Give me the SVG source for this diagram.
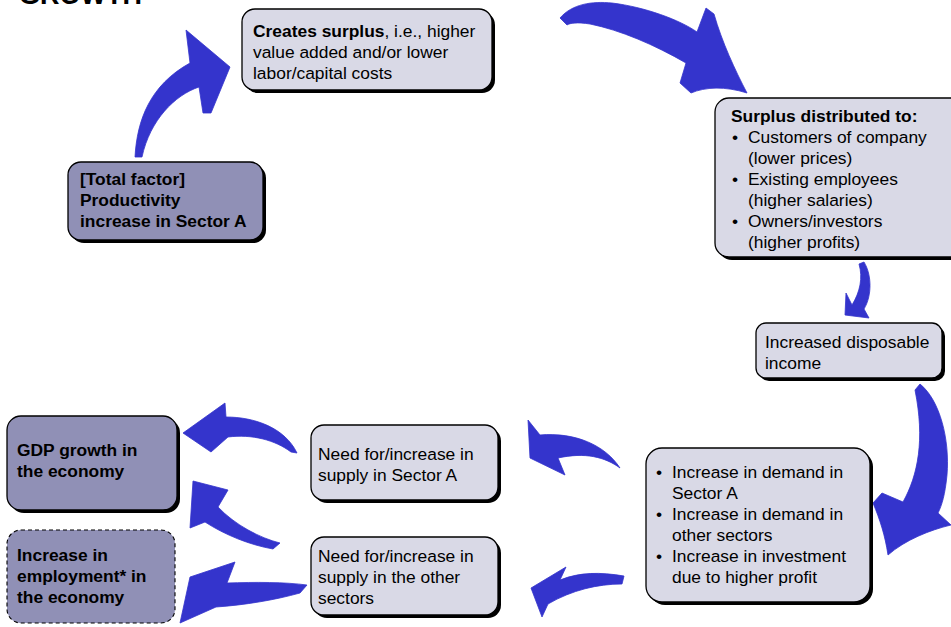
<svg xmlns="http://www.w3.org/2000/svg" width="951" height="627" viewBox="0 0 951 627">
<style>
text{font-family:"Liberation Sans",Arial,sans-serif;font-size:17.4px;fill:#000}
.b{font-weight:bold}
.shadow{fill:#000}
.light{fill:#D9D9E6;stroke:#000;stroke-width:1.3}
.dark{fill:#9090B6;stroke:#000;stroke-width:1.3}
.dash{fill:#9090B6;stroke:#000;stroke-width:1.1;stroke-dasharray:4 3}
.arrow{fill:#3434CC;stroke:#3434CC;stroke-width:0.8;stroke-linejoin:round}
</style>
<rect width="951" height="627" fill="#fff"/>
<text x="19" y="4" class="b" style="font-size:27px">GROWTH</text>

<g id="connectors">
<path class="arrow" d="M135,157 C137,120 150,85 190,63 L186,30 L230,67 L211,113 L203,113 L199,87 C175,95 150,120 142,157 Z"/>
<path class="arrow" d="M560,18 C572,4 592,1 612,3 C645,7 680,20 697,32 L706,8 L714,14 C722,42 735,70 747,93 C725,86 705,87 691,93 L680,83 L686,63 C655,45 620,30 590,24 C577,22 570,23 567,25 Z"/>
<path class="arrow" d="M859,264 L864,262 C872,275 872,296 864,309 L869,318 L845,315 L846,293 L852,305 C860,292 863,278 859,264 Z"/>
<path class="arrow" d="M915,390 L920,384 C940,400 950,440 947,475 C945,495 942,505 938,513 L951,525 C930,530 905,540 888,555 C885,535 880,520 873,503 L882,493 L903,502 C918,475 925,440 915,390 Z"/>
<path class="arrow" d="M620,468 C605,445 575,432 540,435 L528,420 L530,458 L565,475 L558,458 C585,452 605,457 620,468 Z"/>
<path class="arrow" d="M624,576 C600,572 580,572 560,580 L566,567 L531,588 L542,617 L548,604 C572,590 598,584 622,584 Z"/>
<path class="arrow" d="M183,433 L225,403 L226,417 C255,417 285,428 297,453 L291,452 C275,440 252,434 228,437 L211,452 Z"/>
<path class="arrow" d="M193,481 L228,490 L218,507 C235,525 260,538 280,543 L273,549 C250,545 225,535 205,522 L190,528 Z"/>
<path class="arrow" d="M190,577 L235,562 L227,583 C255,582 285,582 307,585 L300,593 C275,600 245,605 216,607 L180,623 Z"/>
</g>

<g id="node-surplus">
<rect class="shadow" x="245" y="12" width="250" height="81" rx="13"/>
<rect class="light" x="242" y="9" width="250" height="81" rx="13"/>
<text x="253" y="37"><tspan class="b">Creates surplus</tspan>, i.e., higher</text>
<text x="253" y="58">value added and/or lower</text>
<text x="253" y="79">labor/capital costs</text>
</g>

<g id="node-productivity">
<rect class="shadow" x="71" y="165" width="195" height="78" rx="13"/>
<rect class="dark" x="68" y="162" width="195" height="78" rx="13"/>
<text x="80" y="185" class="b">[Total factor]</text>
<text x="80" y="206" class="b">Productivity</text>
<text x="80" y="227" class="b">increase in Sector A</text>
</g>

<g id="node-distributed">
<rect class="shadow" x="718" y="101" width="250" height="159" rx="14"/>
<rect class="light" x="715" y="98" width="250" height="159" rx="14"/>
<text x="731" y="122" class="b">Surplus distributed to:</text>
<text x="732" y="143">•</text><text x="748" y="143">Customers of company</text>
<text x="748" y="164">(lower prices)</text>
<text x="732" y="185">•</text><text x="748" y="185">Existing employees</text>
<text x="748" y="206">(higher salaries)</text>
<text x="732" y="227">•</text><text x="748" y="227">Owners/investors</text>
<text x="748" y="248">(higher profits)</text>
</g>

<g id="node-income">
<rect class="shadow" x="759" y="326" width="186" height="55" rx="10"/>
<rect class="light" x="756" y="323" width="186" height="55" rx="10"/>
<text x="765" y="348">Increased disposable</text>
<text x="765" y="369">income</text>
</g>

<g id="node-demand">
<rect class="shadow" x="649" y="451" width="224" height="154" rx="16"/>
<rect class="light" x="646" y="448" width="224" height="154" rx="16"/>
<text x="656" y="478">•</text><text x="672" y="478">Increase in demand in</text>
<text x="672" y="499">Sector A</text>
<text x="656" y="520">•</text><text x="672" y="520">Increase in demand in</text>
<text x="672" y="541">other sectors</text>
<text x="656" y="562">•</text><text x="672" y="562">Increase in investment</text>
<text x="672" y="583">due to higher profit</text>
</g>

<g id="node-supplyA">
<rect class="shadow" x="314" y="428" width="187" height="75" rx="13"/>
<rect class="light" x="311" y="425" width="187" height="75" rx="13"/>
<text x="318" y="460">Need for/increase in</text>
<text x="318" y="481">supply in Sector A</text>
</g>

<g id="node-supplyOther">
<rect class="shadow" x="314" y="540" width="187" height="78" rx="13"/>
<rect class="light" x="311" y="537" width="187" height="78" rx="13"/>
<text x="318" y="562">Need for/increase in</text>
<text x="318" y="583">supply in the other</text>
<text x="318" y="604">sectors</text>
</g>

<g id="node-gdp">
<rect class="shadow" x="10" y="419" width="170" height="94" rx="14"/>
<rect class="dark" x="7" y="416" width="170" height="94" rx="14"/>
<text x="17" y="456" class="b">GDP growth in</text>
<text x="17" y="477" class="b">the economy</text>
</g>

<g id="node-employment">
<rect class="dash" x="7" y="530" width="168" height="93" rx="14"/>
<text x="17" y="561" class="b">Increase in</text>
<text x="17" y="582" class="b">employment* in</text>
<text x="17" y="603" class="b">the economy</text>
</g>
</svg>
